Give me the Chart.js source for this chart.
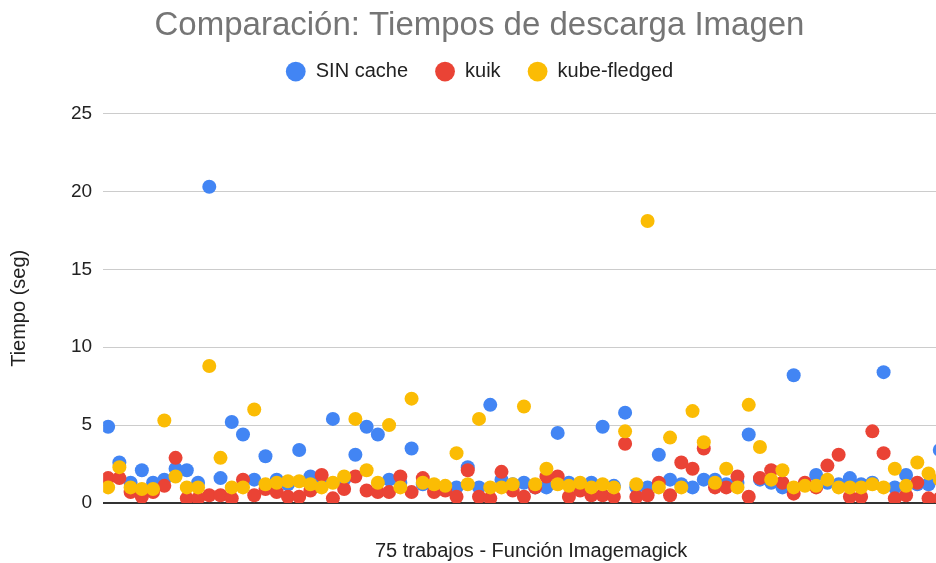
<!DOCTYPE html>
<html>
<head>
<meta charset="utf-8">
<script src="https://cdn.jsdelivr.net/npm/chart.js@4/dist/chart.umd.min.js"></script>
<style>
  html, body { margin: 0; padding: 0; background: #fff; overflow: hidden; }
  #wrap { width: 959px; height: 563px; }
</style>
</head>
<body>
<div id="wrap"><canvas id="myScatter"></canvas></div>
<script>
// job numbers 1..75
const trabajos = Array.from({ length: 75 }, (_, i) => i + 1);

const sinCache = [
  4.9, 2.6, 1.3, 2.1, 1.3, 1.5, 2.2, 2.1, 1.3, 20.3,
  1.6, 5.2, 4.4, 1.5, 3.0, 1.5, 1.2, 3.4, 1.7, 1.4,
  5.4, 1.5, 3.1, 4.9, 4.4, 1.5, 1.3, 3.5, 1.2, 1.1,
  1.0, 1.0, 2.3, 1.0, 6.3, 1.5, 1.2, 1.3, 1.0, 1.0,
  4.5, 1.3, 1.1, 1.3, 4.9, 1.1, 5.8, 1.0, 1.0, 3.1,
  1.5, 1.2, 1.0, 1.5, 1.5, 1.2, 1.3, 4.4, 1.5, 1.3,
  1.0, 8.2, 1.2, 1.8, 1.3, 1.2, 1.6, 1.2, 1.3, 8.4,
  1.0, 1.8, 1.2, 1.2, 3.4
];

const kuik = [
  1.6, 1.6, 0.7, 0.4, 0.7, 1.1, 2.9, 0.3, 0.3, 0.5,
  0.5, 0.3, 1.5, 0.5, 0.9, 0.7, 0.4, 0.4, 0.8, 1.8,
  0.3, 0.9, 1.7, 0.8, 0.7, 0.7, 1.7, 0.7, 1.6, 0.7,
  0.8, 0.4, 2.1, 0.4, 0.3, 2.0, 0.8, 0.4, 1.0, 1.7,
  1.7, 0.4, 0.8, 0.5, 0.5, 0.4, 3.8, 0.4, 0.5, 1.3,
  0.5, 2.6, 2.2, 3.5, 1.0, 1.0, 1.7, 0.4, 1.6, 2.1,
  1.3, 0.6, 1.3, 1.0, 2.4, 3.1, 0.4, 0.4, 4.6, 3.2,
  0.3, 0.5, 1.3, 0.3, 0.3
];

const kubeFledged = [
  1.0, 2.3, 1.0, 0.9, 0.9, 5.3, 1.7, 1.0, 1.0, 8.8,
  2.9, 1.0, 1.0, 6.0, 1.2, 1.3, 1.4, 1.4, 1.2, 1.0,
  1.3, 1.7, 5.4, 2.1, 1.3, 5.0, 1.0, 6.7, 1.3, 1.2,
  1.1, 3.2, 1.2, 5.4, 1.0, 1.0, 1.2, 6.2, 1.2, 2.2,
  1.2, 1.1, 1.3, 1.0, 1.2, 1.0, 4.6, 1.2, 18.1, 1.0,
  4.2, 1.0, 5.9, 3.9, 1.3, 2.2, 1.0, 6.3, 3.6, 1.5,
  2.1, 1.0, 1.1, 1.1, 1.5, 1.0, 1.0, 1.0, 1.2, 1.0,
  2.2, 1.1, 2.6, 1.9, 1.5
];

const yTicks = [0, 5, 10, 15, 20, 25];

const toPoints = vals => vals.map((v, i) => ({ x: trabajos[i], y: v }));

const font = '"Liberation Sans", Arial, sans-serif';

// the legend keeps wide gaps between items but more room below them
const legendFit = {
  id: 'legendFit',
  afterInit(chart) {
    const legend = chart.legend;
    const fit = legend.fit.bind(legend);
    legend.fit = function () {
      fit();
      this.height += 22;
    };
  },
};

new Chart(document.getElementById('myScatter'), {
  type: 'scatter',
  data: {
    datasets: [
      { label: 'SIN cache', data: toPoints(sinCache), backgroundColor: '#4285F4', order: 3 },
      { label: 'kuik', data: toPoints(kuik), backgroundColor: '#EA4335', order: 2 },
      { label: 'kube-fledged', data: toPoints(kubeFledged), backgroundColor: '#FBBC04', order: 1 },
    ],
  },
  plugins: [legendFit],
  options: {
    responsive: true,
    maintainAspectRatio: false,
    animation: false,
    layout: { padding: 0, autoPadding: false },
    elements: {
      point: { radius: 7, hoverRadius: 7, borderWidth: 0 },
    },
    plugins: {
      tooltip: { enabled: false },
      title: {
        display: true,
        text: 'Comparación: Tiempos de descarga Imagen',
        color: '#757575',
        font: { family: font, size: 33, weight: 'normal' },
        padding: { top: 6, bottom: -11 },
      },
      legend: {
        reverse: true,
        labels: {
          usePointStyle: true,
          pointStyle: 'circle',
          boxWidth: 20,
          boxHeight: 14,
          color: '#222',
          font: { family: font, size: 20 },
          padding: 27,
        },
      },
    },
    scales: {
      x: {
        type: 'linear',
        min: 0.555,
        max: 76.71,
        grid: { display: false, drawTicks: false },
        border: { display: false },
        ticks: { display: false },
        title: {
          display: true,
          text: '75 trabajos - Función Imagemagick',
          color: '#222',
          font: { family: font, size: 20 },
          padding: { top: 36, bottom: 0 },
        },
      },
      y: {
        min: 0,
        max: 25,
        afterBuildTicks: axis => { axis.ticks = yTicks.map(v => ({ value: v })); },
        grid: {
          color: ctx => (ctx.tick && ctx.tick.value === 0 ? '#333' : '#ccc'),
          lineWidth: ctx => (ctx.tick && ctx.tick.value === 0 ? 2 : 1),
          drawTicks: false,
        },
        border: { display: false },
        ticks: {
          color: '#222',
          font: { family: font, size: 19 },
          padding: 11,
        },
        title: {
          display: true,
          text: 'Tiempo (seg)',
          color: '#222',
          font: { family: font, size: 20 },
          padding: { top: 7, bottom: 29 },
        },
      },
    },
  },
});
</script>
</body>
</html>
